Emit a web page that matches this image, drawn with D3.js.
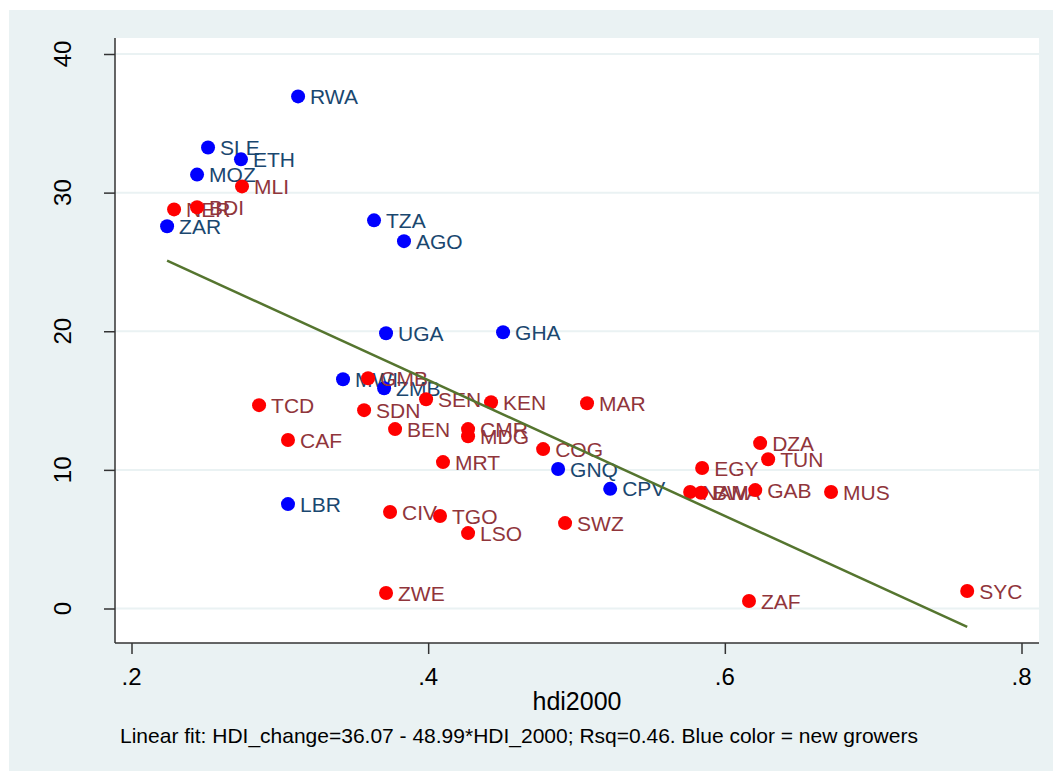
<!DOCTYPE html>
<html>
<head>
<meta charset="utf-8">
<script src="https://cdn.jsdelivr.net/npm/d3@7"></script>
<style>
  html, body { margin: 0; padding: 0; background: #ffffff; }
  svg { display: block; font-family: "Liberation Sans", Arial, sans-serif; }
</style>
</head>
<body>
<svg id="chart" width="1053" height="771"></svg>
<script>
// Country codes, HDI in 2000 and HDI change, split by grower group
const newCodes = ["RWA","SLE","ETH","MOZ","ZAR","TZA","AGO","UGA","GHA","MWI","ZMB","GNQ","CPV","LBR"];
const newHdi   = [0.3123,0.2516,0.2738,0.2442,0.2240,0.3635,0.3837,0.3716,0.4505,0.3426,0.3703,0.4876,0.5227,0.3055];
const newChg   = [36.94,33.26,32.40,31.30,27.57,28.00,26.50,19.86,19.93,16.54,15.89,10.06,8.63,7.53];

const oldCodes = ["MLI","NER","BDI","GMB","TCD","SDN","SEN","KEN","MAR","CAF","BEN","CMR","MDG","COG","MRT","DZA","TUN","EGY","NAM","BWA","GAB","MUS","SWZ","CIV","TGO","LSO","ZWE","ZAF","SYC"];
const oldHdi   = [0.2745,0.2287,0.2442,0.3595,0.2860,0.3568,0.3986,0.4424,0.5071,0.3055,0.3777,0.4269,0.4269,0.4775,0.4100,0.6238,0.6292,0.5847,0.5766,0.5840,0.6205,0.6716,0.4923,0.3743,0.4080,0.4269,0.3716,0.6163,0.7634];
const oldChg   = [30.45,28.79,28.94,16.61,14.67,14.31,15.10,14.88,14.81,12.15,12.94,12.94,12.43,11.50,10.56,11.93,10.77,10.13,8.40,8.35,8.54,8.40,6.16,6.96,6.67,5.44,1.12,0.54,1.26];

// Fitted line coefficients
const fitIntercept = 36.07;
const fitSlope = -48.99;

const xTicks = [0.2, 0.4, 0.6, 0.8];
const xTickLabels = [".2", ".4", ".6", ".8"];
const yTicks = [0, 10, 20, 30, 40];

const xTitle = "hdi2000";
const note = "Linear fit: HDI_change=36.07 - 48.99*HDI_2000; Rsq=0.46. Blue color = new growers";

const svg = d3.select("#chart");
const W = 1053, H = 771;

// Plot region
const plot = { left: 115, right: 1039, top: 38, bottom: 643 };

const x = d3.scaleLinear().domain([0.2, 0.8]).range([131.5, 1021.5]);
const y = d3.scaleLinear().domain([0, 40]).range([608.5, 54]);

// Outer graph region
svg.append("rect").attr("x", 9).attr("y", 10).attr("width", W - 9).attr("height", H - 10)
  .attr("fill", "#eaf2f3");
svg.append("rect").attr("x", plot.left).attr("y", plot.top)
  .attr("width", plot.right - plot.left).attr("height", plot.bottom - plot.top)
  .attr("fill", "#ffffff");

// Horizontal gridlines
svg.append("g").selectAll("line").data(yTicks).join("line")
  .attr("x1", plot.left).attr("x2", plot.right)
  .attr("y1", d => y(d)).attr("y2", d => y(d))
  .attr("stroke", "#eaf2f3").attr("stroke-width", 2);

// Y axis
const yAxis = svg.append("g").attr("transform", `translate(${plot.left},0)`)
  .call(d3.axisLeft(y).tickValues(yTicks).tickSize(11).tickFormat(""));
yAxis.select(".domain").attr("d", `M0,${plot.top}V${plot.bottom}`).attr("stroke", "#333").attr("stroke-width", 1.5);
yAxis.selectAll(".tick line").attr("stroke", "#333").attr("stroke-width", 1.5);
svg.append("g").selectAll("text").data(yTicks).join("text")
  .attr("transform", d => `translate(71,${y(d)}) rotate(-90)`)
  .attr("text-anchor", "middle")
  .attr("font-size", 24).attr("fill", "#000")
  .text(d => d);

// X axis
const xAxis = svg.append("g").attr("transform", `translate(0,${plot.bottom})`)
  .call(d3.axisBottom(x).tickValues(xTicks).tickSize(11).tickFormat(""));
xAxis.select(".domain").attr("d", `M${plot.left},0H${plot.right}`).attr("stroke", "#333").attr("stroke-width", 1.5);
xAxis.selectAll(".tick line").attr("stroke", "#333").attr("stroke-width", 1.5);
svg.append("g").selectAll("text").data(xTicks).join("text")
  .attr("x", d => x(d)).attr("y", 685)
  .attr("text-anchor", "middle")
  .attr("font-size", 24).attr("fill", "#000")
  .text((d, i) => xTickLabels[i]);

// Axis title and note
svg.append("text").attr("x", (plot.left + plot.right) / 2).attr("y", 710)
  .attr("text-anchor", "middle").attr("font-size", 25).attr("fill", "#000").text(xTitle);
svg.append("text").attr("x", 120).attr("y", 743)
  .attr("font-size", 21).attr("fill", "#000").text(note);

// Scatter groups: marker followed by its label
function drawGroup(codes, hdi, chg, dotColor, labelColor) {
  const rows = codes.map((c, i) => ({ code: c, hdi: hdi[i], chg: chg[i] }));
  const g = svg.append("g");
  rows.forEach(d => {
    g.append("circle").attr("cx", x(d.hdi)).attr("cy", y(d.chg)).attr("r", 7)
      .attr("fill", dotColor);
    g.append("text").attr("x", x(d.hdi) + 12).attr("y", y(d.chg)).attr("dy", "0.36em")
      .attr("font-size", 21).attr("fill", labelColor).text(d.code);
  });
}
drawGroup(newCodes, newHdi, newChg, "#0000ff", "#1a476f");
drawGroup(oldCodes, oldHdi, oldChg, "#ff0000", "#90353b");

// Fitted line across the observed HDI range
const allHdi = newHdi.concat(oldHdi);
const xr = d3.extent(allHdi);
const fitPts = xr.map(v => [v, fitIntercept + fitSlope * v]);
svg.append("path")
  .attr("d", d3.line().x(d => x(d[0])).y(d => y(d[1]))(fitPts))
  .attr("stroke", "#55752f").attr("stroke-width", 2.5).attr("fill", "none");
</script>
</body>
</html>
